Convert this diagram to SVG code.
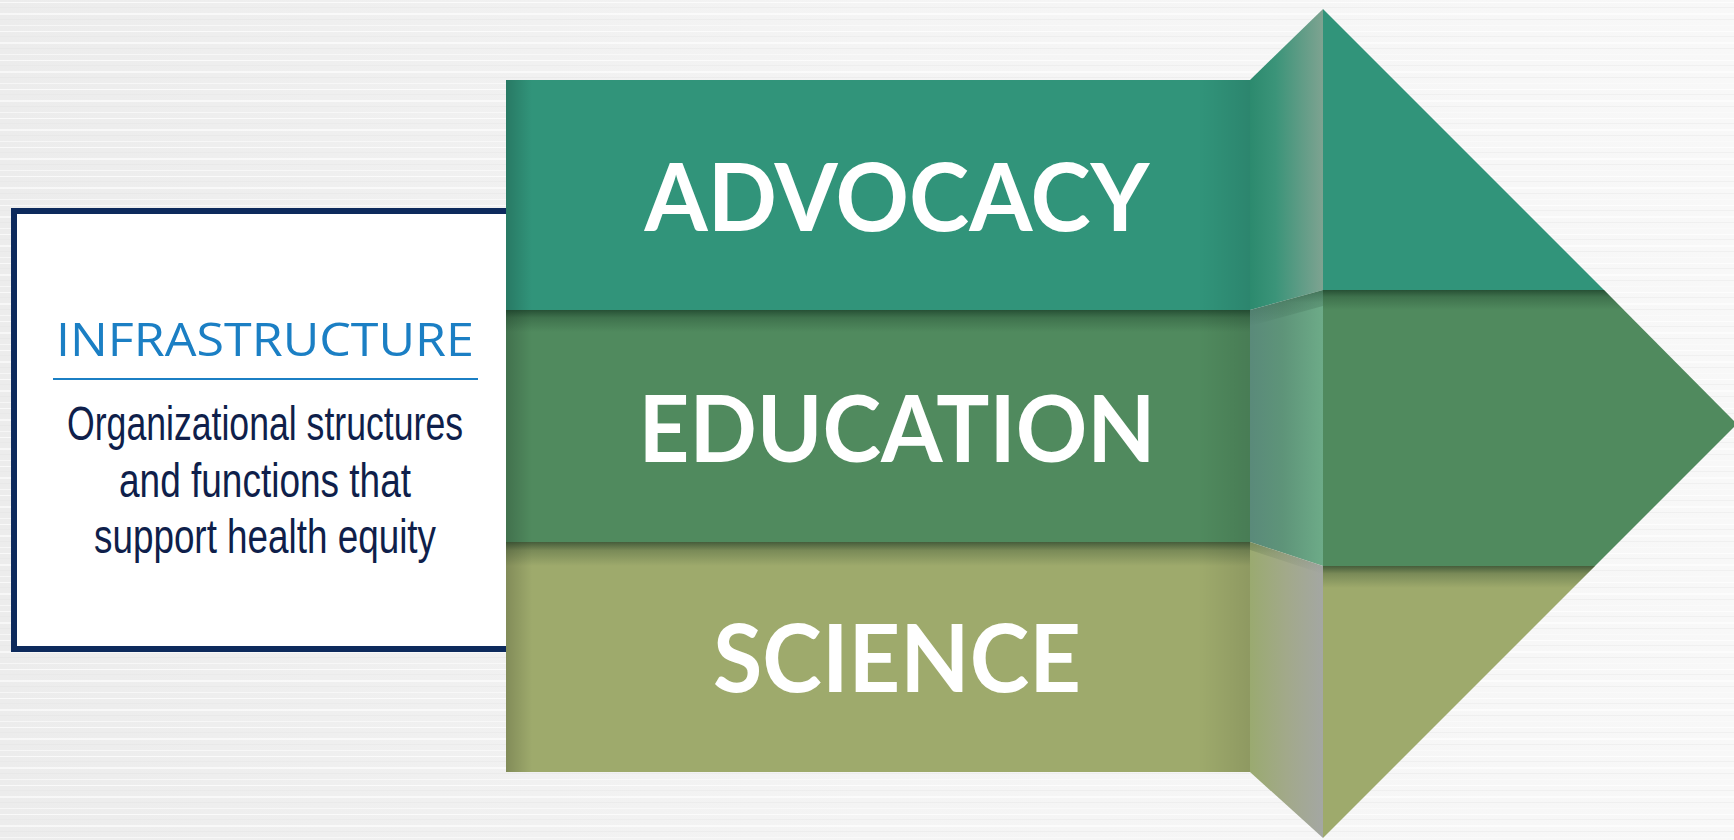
<svg xmlns="http://www.w3.org/2000/svg" width="1734" height="840" viewBox="0 0 1734 840">
<defs>
<style>
.lbl{font-family:Lato,"Liberation Sans",sans-serif;font-weight:700;fill:#ffffff;text-anchor:middle}
.infra{font-family:"Open Sans","Liberation Sans",sans-serif;font-weight:500;fill:#1b7fc4;text-anchor:middle}
.body{font-family:"Liberation Sans Narrow","Liberation Sans",sans-serif;fill:#0f1f4b;text-anchor:middle}
</style>
<linearGradient id="bgGrad" x1="0" y1="0" x2="1" y2="0">
<stop offset="0" stop-color="#ececec"/><stop offset="0.5" stop-color="#f4f4f4"/><stop offset="1" stop-color="#f8f8f8"/>
</linearGradient>
<pattern id="brush" width="1734" height="29" patternUnits="userSpaceOnUse">
<rect x="0" y="2" width="1734" height="1" fill="#ffffff" opacity="0.7"/>
<rect x="0" y="7" width="1734" height="1" fill="#e2e2e2" opacity="0.35"/>
<rect x="0" y="13" width="1734" height="2" fill="#ffffff" opacity="0.6"/>
<rect x="0" y="19" width="1734" height="1" fill="#e0e0e0" opacity="0.3"/>
<rect x="0" y="25" width="1734" height="1" fill="#fcfcfc" opacity="0.7"/>
</pattern>
<linearGradient id="edge" x1="0" y1="0" x2="1" y2="0">
<stop offset="0" stop-color="#000" stop-opacity="0.18"/>
<stop offset="0.035" stop-color="#000" stop-opacity="0"/>
<stop offset="0.93" stop-color="#000" stop-opacity="0"/>
<stop offset="1" stop-color="#000" stop-opacity="0.1"/>
</linearGradient>
<linearGradient id="shadow" x1="0" y1="0" x2="0" y2="1">
<stop offset="0" stop-color="#0b2a1a" stop-opacity="0.6"/>
<stop offset="0.35" stop-color="#0b2a1a" stop-opacity="0.25"/>
<stop offset="1" stop-color="#0b2a1a" stop-opacity="0"/>
</linearGradient>
<linearGradient id="fold1" x1="0" y1="0" x2="1" y2="0">
<stop offset="0" stop-color="#2c8a6e"/><stop offset="0.35" stop-color="#3b9479"/><stop offset="1" stop-color="#7ea391"/>
</linearGradient>
<linearGradient id="fold2" x1="0" y1="0" x2="1" y2="0">
<stop offset="0" stop-color="#5a8a7a"/><stop offset="0.45" stop-color="#5e9479"/><stop offset="1" stop-color="#6dab88"/>
</linearGradient>
<linearGradient id="fold3" x1="0" y1="0" x2="1" y2="0">
<stop offset="0" stop-color="#9aaa70"/><stop offset="0.5" stop-color="#a2a98a"/><stop offset="1" stop-color="#a4a7a3"/>
</linearGradient>
</defs>

<g id="background">
<rect x="0" y="0" width="1734" height="840" fill="url(#bgGrad)"/>
<rect x="0" y="0" width="1734" height="840" fill="url(#brush)"/>
</g>

<g id="infrastructure">
<rect x="14" y="211" width="520" height="438" fill="#ffffff" stroke="#0d2a5c" stroke-width="6"/>
<text class="infra" x="265" y="356" font-size="46" textLength="418" lengthAdjust="spacingAndGlyphs">INFRASTRUCTURE</text>
<rect x="53" y="378" width="425" height="2" fill="#1b7fc4"/>
<text class="body" x="265" y="440" font-size="48" textLength="396" lengthAdjust="spacingAndGlyphs">Organizational structures</text>
<text class="body" x="265" y="497" font-size="48" textLength="292" lengthAdjust="spacingAndGlyphs">and functions that</text>
<text class="body" x="265" y="553" font-size="48" textLength="342" lengthAdjust="spacingAndGlyphs">support health equity</text>
</g>

<g id="band-advocacy">
<rect x="506" y="80" width="744" height="230" fill="#31947a"/>
<rect x="506" y="80" width="744" height="230" fill="url(#edge)"/>
<polygon points="1250,80 1323,9 1323,290 1250,310" fill="url(#fold1)"/>
<polygon points="1323,9 1604,290 1323,290" fill="#31947a"/>
<text class="lbl" x="897" y="231" font-size="94" textLength="505" lengthAdjust="spacingAndGlyphs">ADVOCACY</text>
</g>

<g id="band-education">
<rect x="506" y="310" width="744" height="232" fill="#508a5e"/>
<rect x="506" y="310" width="744" height="232" fill="url(#edge)"/>
<polygon points="1250,310 1323,290 1323,566 1250,542" fill="url(#fold2)"/>
<polygon points="1323,290 1604,290 1737,424 1595,566 1323,566" fill="#508a5e"/>
<rect x="506" y="310" width="744" height="22" fill="url(#shadow)"/>
<polygon points="1250,310 1323,290 1323,306 1250,326" fill="url(#shadow)" opacity="0.7"/>
<polygon points="1323,290 1604,290 1624,310 1323,310" fill="url(#shadow)"/>
<text class="lbl" x="897" y="462" font-size="92" textLength="517" lengthAdjust="spacingAndGlyphs">EDUCATION</text>
</g>

<g id="band-science">
<rect x="506" y="542" width="744" height="230" fill="#9eaa6c"/>
<rect x="506" y="542" width="744" height="230" fill="url(#edge)"/>
<polygon points="1250,542 1323,566 1323,838 1250,772" fill="url(#fold3)"/>
<polygon points="1323,566 1595,566 1323,838" fill="#9eaa6c"/>
<rect x="506" y="542" width="744" height="24" fill="url(#shadow)"/>
<polygon points="1250,542 1323,566 1323,574 1250,550" fill="url(#shadow)" opacity="0.4"/>
<polygon points="1323,566 1595,566 1573,588 1323,588" fill="url(#shadow)"/>
<text class="lbl" x="897" y="692" font-size="94" textLength="368" lengthAdjust="spacingAndGlyphs">SCIENCE</text>
</g>

<g id="connectors"></g>
</svg>
